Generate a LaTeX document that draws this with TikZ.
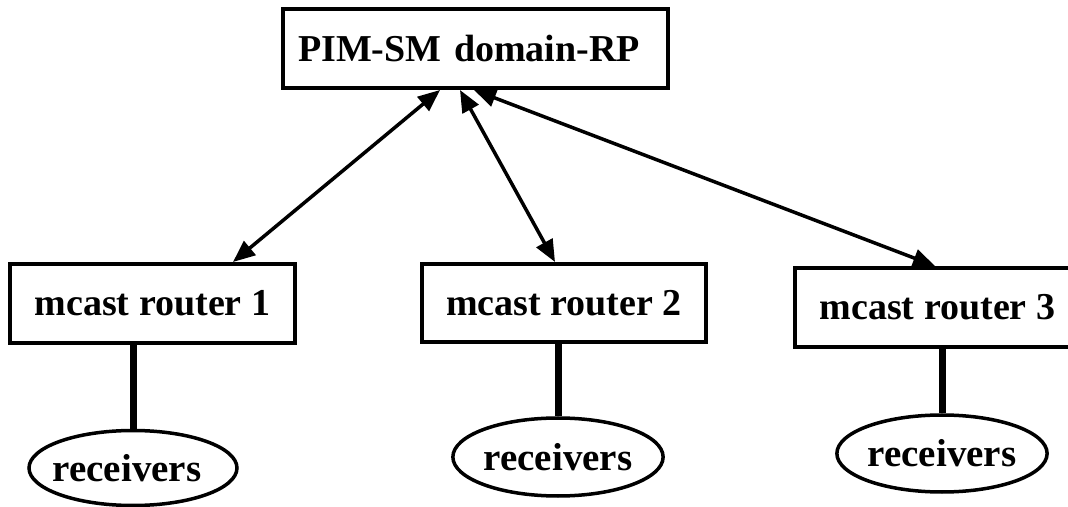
\documentclass[tikz,border=0pt]{standalone}
\usepackage{fontspec}
\setmainfont{Liberation Serif}
\usetikzlibrary{arrows.meta,shapes.geometric}
\tikzset{
  box/.style={draw, line width=4pt, fill=white, inner sep=0pt, font=\bfseries\fontsize{38}{40}\selectfont},
  recv/.style={draw, ellipse, line width=3.5pt, fill=white, inner sep=0pt, font=\bfseries\fontsize{39}{40}\selectfont},
  link/.style={line width=3.5pt, {Triangle[length=22pt,width=18pt]}-{Triangle[length=22pt,width=18pt]}},
  tie/.style={line width=7pt}
}
\begin{document}
\begin{tikzpicture}[x=1pt,y=1pt]
\useasboundingbox (0,0) rectangle (1068,506);
\clip (0,0) rectangle (1068,506);
\fill[white] (0,0) rectangle (1068,506);
\node[box, text width=355pt, align=left, inner xsep=15pt, minimum height=79pt] (top) at (475.5,457.5) {PIM-SM domain-RP};
\node[box, minimum width=285pt, minimum height=79pt] (r1) at (152.5,202.5) {mcast router 1};
\node[box, minimum width=284pt, minimum height=78pt] (r2) at (564,203) {mcast router 2};
\node[box, minimum width=285pt, minimum height=79pt] (r3) at (937.5,198.5) {mcast router 3};
\node[recv, minimum width=208pt, minimum height=75pt] (e1) at (133,38) {\hspace*{-12pt}receivers};
\node[recv, minimum width=210pt, minimum height=78pt] (e2) at (558,49) {receivers};
\node[recv, minimum width=209pt, minimum height=77pt] (e3) at (942,52.5) {receivers};
\draw[tie] (e1.north) -- (e1.north |- r1.south);
\draw[tie] (e2.north) -- (e2.north |- r2.south);
\draw[tie] (e3.north) -- (e3.north |- r3.south);
\draw[link] ([xshift=-35.5pt]top.south) -- ([xshift=80.5pt]r1.north);
\draw[link] ([xshift=-15.5pt]top.south) -- ([xshift=-9pt]r2.north);
\draw[link] ([xshift=-1.5pt]top.south) -- ([xshift=-2.5pt]r3.north);
\end{tikzpicture}
\end{document}
